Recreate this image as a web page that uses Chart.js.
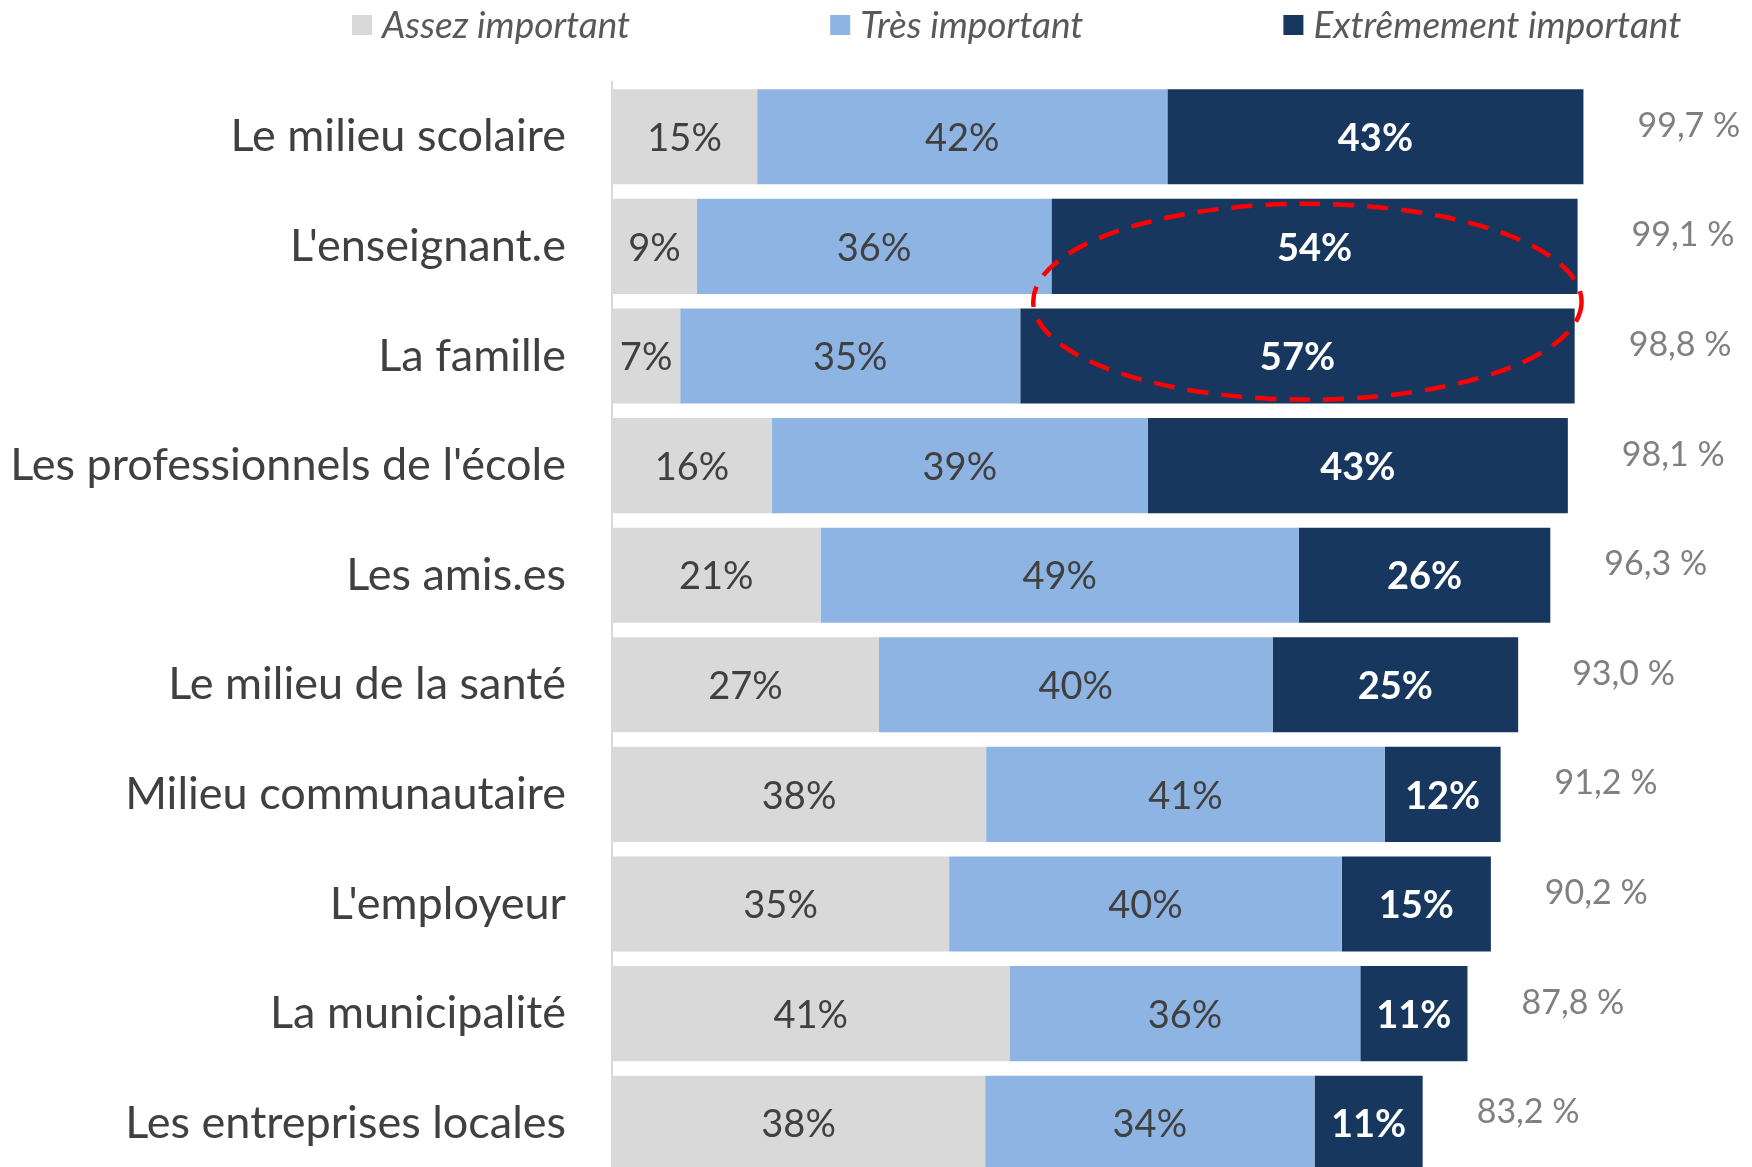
<!DOCTYPE html>
<html>
<head>
<meta charset="utf-8">
<script src="https://cdn.jsdelivr.net/npm/chart.js@4.4.1/dist/chart.umd.min.js"></script>
<style>
html, body { margin: 0; padding: 0; background: #fff; overflow: hidden; }
#wrap { width: 1752px; height: 1167px; overflow: hidden; }
</style>
</head>
<body>
<!-- canvas taller than the page: the last bar is cut by the bottom edge, as in the picture -->
<div id="wrap"><canvas id="myChart" width="1752" height="1251"></canvas></div>
<script>
const categories = ["Le milieu scolaire", "L'enseignant.e", "La famille", "Les professionnels de l'école", "Les amis.es", "Le milieu de la santé", "Milieu communautaire", "L'employeur", "La municipalité", "Les entreprises locales"];
const seriesNames = ["Assez important", "Très important", "Extrêmement important"];
const assez = [14.9, 8.7, 7.0, 16.4, 21.4, 27.4, 38.4, 34.6, 40.8, 38.3];
const tres = [42.1, 36.4, 34.9, 38.6, 49.1, 40.4, 40.9, 40.3, 36.0, 33.8];
const extreme = [42.7, 54.0, 56.9, 43.1, 25.8, 25.2, 11.9, 15.3, 11.0, 11.1];
const totals = [99.7, 99.1, 98.8, 98.1, 96.3, 93.0, 91.2, 90.2, 87.8, 83.2];
const colors = ["#D9D9D9", "#8EB4E3", "#17375E"];

const FONT = "Lato, 'Open Sans', sans-serif";

// value labels inside segments + totals on the right
const labelsPlugin = {
    id: 'labels',
    afterDatasetsDraw(chart) {
        const ctx = chart.ctx;
        ctx.save();
        ctx.textAlign = 'center';
        ctx.textBaseline = 'middle';
        chart.data.datasets.forEach((ds, di) => {
            const meta = chart.getDatasetMeta(di);
            meta.data.forEach((bar, i) => {
                const cx = (bar.x + bar.base) / 2;
                if (di === 2) {
                    ctx.font = "bold 38px " + FONT;
                    ctx.fillStyle = "#FFFFFF";
                } else {
                    ctx.font = "38px " + FONT;
                    ctx.fillStyle = "#404040";
                }
                ctx.fillText(Math.round(ds.data[i]) + '%', cx, bar.y + 2);
            });
        });
        const last = chart.getDatasetMeta(2);
        ctx.textAlign = 'left';
        ctx.font = "34px " + FONT;
        ctx.fillStyle = "#808080";
        last.data.forEach((bar, i) => {
            ctx.fillText(totals[i].toFixed(1).replace('.', ',') + ' %', bar.x + 54, bar.y - 11);
        });
        ctx.restore();
    }
};

// red dashed ellipse round the two biggest "extrêmement" segments
const ellipsePlugin = {
    id: 'ellipse',
    afterDraw(chart) {
        const meta = chart.getDatasetMeta(2);
        const a = meta.data[1], b = meta.data[2];
        const left = Math.min(a.base, b.base) + 13;
        const right = Math.max(a.x, b.x) + 4;
        const top = a.y - a.height / 2 + 5;
        const bottom = b.y + b.height / 2 - 4;
        const ctx = chart.ctx;
        ctx.save();
        ctx.strokeStyle = "#FF0000";
        ctx.lineWidth = 4.5;
        ctx.setLineDash([21, 13]);
        ctx.beginPath();
        ctx.ellipse((left + right) / 2, (top + bottom) / 2, (right - left) / 2, (bottom - top) / 2, 0, 0, Math.PI * 2);
        ctx.stroke();
        ctx.restore();
    }
};

// simple legend at the top
const legendPlugin = {
    id: 'topLegend',
    afterDraw(chart) {
        const ctx = chart.ctx;
        ctx.save();
        ctx.font = "italic 37px " + FONT;
        ctx.textBaseline = 'middle';
        let x = 352;
        const y = 25;
        seriesNames.forEach((name, i) => {
            ctx.fillStyle = colors[i];
            ctx.fillRect(x, y - 10, 20, 20);
            ctx.fillStyle = "#595959";
            ctx.fillText(name, x + 30, y + 1);
            x += 30 + ctx.measureText(name).width + 200;
        });
        ctx.restore();
    }
};

new Chart("myChart", {
    type: "bar",
    data: {
        labels: categories,
        datasets: [
            { label: seriesNames[0], data: assez, backgroundColor: colors[0] },
            { label: seriesNames[1], data: tres, backgroundColor: colors[1] },
            { label: seriesNames[2], data: extreme, backgroundColor: colors[2] }
        ]
    },
    options: {
        indexAxis: 'y',
        responsive: false,
        animation: false,
        devicePixelRatio: 1,
        layout: { padding: { top: 82, right: 0, bottom: 0, left: 0 } },
        datasets: { bar: { categoryPercentage: 1, barPercentage: 0.868 } },
        scales: {
            x: { stacked: true, min: 0, max: 117, display: false },
            y: {
                stacked: true,
                afterFit(scale) { scale.width = 612; },
                grid: { display: false, drawTicks: false },
                border: { display: true, color: "#D9D9D9", width: 2 },
                ticks: { color: "#404040", padding: 46, font: { family: FONT, size: 45, lineHeight: 1.2 } }
            }
        },
        plugins: {
            legend: { display: false },
            tooltip: { enabled: false }
        }
    },
    plugins: [labelsPlugin, ellipsePlugin, legendPlugin]
});
</script>
</body>
</html>
